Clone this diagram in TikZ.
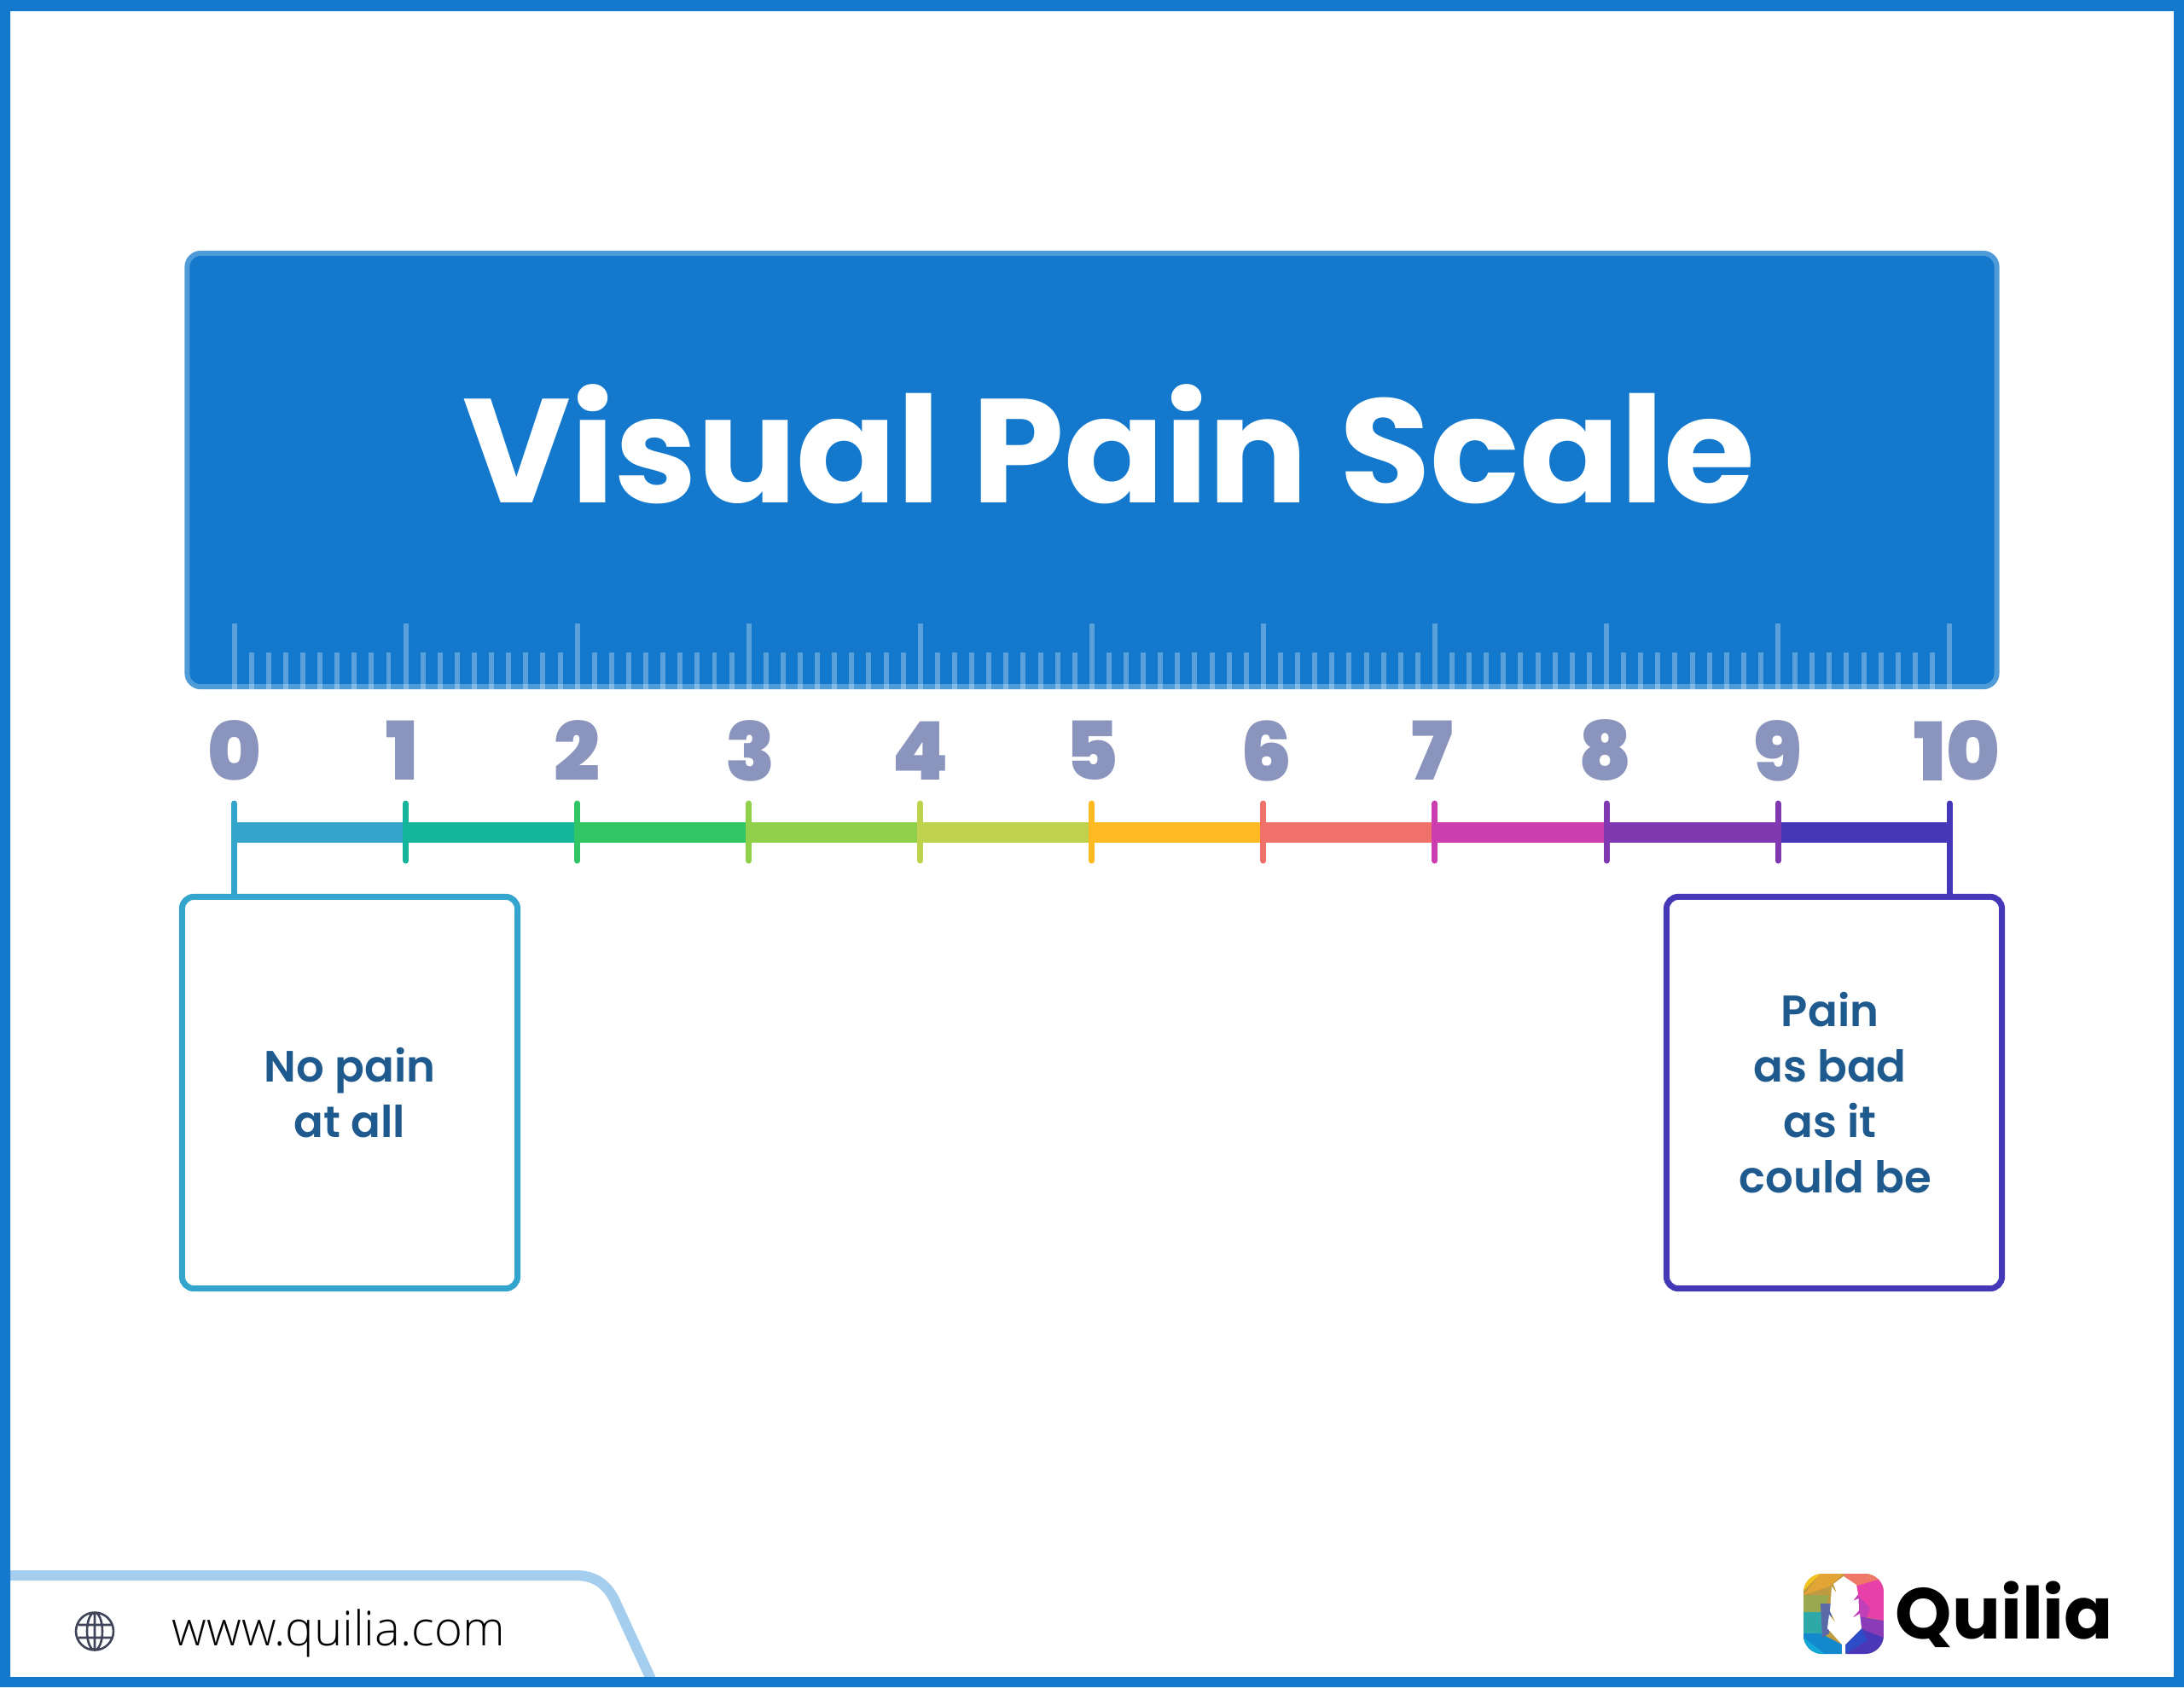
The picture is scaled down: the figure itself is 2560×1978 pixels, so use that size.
\documentclass[tikz,border=0pt]{standalone}
\usepackage{fontspec}
\setmainfont{Poppins}
\newfontfamily\digitfont{Poppins Black}
\newfontfamily\semifont{Poppins SemiBold}
\newfontfamily\webfont{Open Sans Light}
\definecolor{framecol}{HTML}{1479CC}
\definecolor{edgecol}{HTML}{4F9BD8}
\definecolor{tabcol}{HTML}{A5CDEE}
\definecolor{digitcol}{HTML}{8A94BC}
\definecolor{textcol}{HTML}{1F5A8E}
\definecolor{globecol}{HTML}{3F4458}
\definecolor{sa}{HTML}{33A5CC}
\definecolor{sb}{HTML}{14B59A}
\definecolor{sc}{HTML}{32C565}
\definecolor{sd}{HTML}{90D04A}
\definecolor{se}{HTML}{BFD24E}
\definecolor{sf}{HTML}{FFBA22}
\definecolor{sg}{HTML}{F0706A}
\definecolor{sh}{HTML}{CC3DAF}
\definecolor{si}{HTML}{8038B0}
\definecolor{sj}{HTML}{4438B8}
\tikzset{
	rulertick/.style={white, opacity=0.3, line width=1.7pt},
	scaletick/.style={line width=2pt, line cap=round},
	scalebar/.style={line width=6.83pt},
	digit/.style={inner sep=0, text=digitcol, font=\digitfont\fontsize{27}{27}\selectfont},
	painbox/.style={line width=2pt, rounded corners=1.4mm, outer sep=0, fill=white, minimum width=3.93cm,
		minimum height=4.59cm, align=center, text=textcol, font=\semifont\fontsize{14.6}{18.5}\selectfont},
}
\begin{document}
\begin{tikzpicture}[x=0.01cm, y=-0.01cm]
	  \useasboundingbox (0,0) rectangle (2560,1978);
	  % Header
	  \node [draw=edgecol, fill=framecol, line width=1.7pt, rounded corners=1.6mm, outer sep=0, minimum width=21.2cm,
	  minimum height=5.08cm] (header) at (1280,551) {};
	  \node [inner sep=0, text=white, font=\bfseries\fontsize{49.3}{60}\selectfont] (title) at (1300,521) {Visual Pain Scale};
	  % Ruler on the header
	  \foreach \i in {0,...,10}
	  	\draw [rulertick] (274.6+\i*201.05,731) -- (274.6+\i*201.05,808);
	  \foreach \i in {0,...,9}
	  	\foreach \j in {1,...,9}
	  		\draw [rulertick] (274.6+\i*201.05+\j*20.1,765) -- (274.6+\i*201.05+\j*20.1,808);
	  % Digits
	  \foreach \i/\dx in {0/0,1/-4,2/0,3/2,4/0,5/0,6/4,7/-3,8/-1,9/0,10/9}
	  	\node [digit] (digit\i) at (274.6+\i*201.05+\dx,880) {\i};
	  % Scale
	  \foreach \i/\col in {0/sa,1/sb,2/sc,3/sd,4/se,5/sf,6/sg,7/sh,8/si,9/sj}
	  	\draw [scalebar, \col] (274.6+\i*201.05,976) -- (274.6+\i*201.05+201.05,976);
	  \foreach \i/\col in {0/sa,1/sb,2/sc,3/sd,4/se,5/sf,6/sg,7/sh,8/si,9/si,10/sj}{
	  	\coordinate (tick\i) at (274.6+\i*201.05,942);
	  	\draw [scaletick, \col] (tick\i) -- ++(0,67);
	  }
	  % Boxes
	  \node [painbox, draw=sa] (lowbox) at (410,1281) {No pain\\at all};
	  \node [painbox, draw=sj] (highbox) at (2150,1281) {\mbox{Pain\kern2.8pt}\\\mbox{as bad\kern2.8pt}\\\mbox{as it\kern2.8pt}\\\mbox{\kern0.9pt could be}};
	  \draw [line width=2pt, sa] (tick0) -- (tick0 |- lowbox.north);
	  \draw [line width=2pt, sj] (tick10) -- (tick10 |- highbox.north);
	  % Footer tab
	  \draw [line width=3.41pt, tabcol] (0,1847) -- (675,1847) .. controls (700,1847) and (712,1860) .. (720,1875) -- (766,1975);
	  \draw [line width=0.74pt, globecol] (111,1912.5) circle (22) (111,1912.5) ellipse (9 and 22)
	  (92,1905) -- (130,1905) (92,1920) -- (130,1920) (111,1890.5) -- (111,1934.5);
	  \node [inner sep=0, anchor=west, font=\webfont\fontsize{16}{16}\selectfont] (web) at (201,1915) {www.quilia.com};
	  \node [inner sep=0, anchor=west, font=\bfseries\fontsize{24}{24}\selectfont] (brand) at (2221,1893) {Quilia};
	  % Frame
	  \fill [framecol, even odd rule] (0,0) rectangle (2560,1978) (12,13) rectangle (2548,1966);
	  % Logo
	  \begin{scope}[shift={(2114,1845)}]
	  	\clip [rounded corners=2.2mm] (0,0) rectangle (94,94);
	  	\fill [fill={rgb,255:red,192;green,154;blue,64}] (0,0) rectangle (94,94);
	  	\fill [fill={rgb,255:red,227;green,164;blue,54}] (20,0) -- (47,0) -- (30,15) -- (0,25) -- cycle;
	  	\fill [fill={rgb,255:red,245;green,195;blue,30}] (0,0) -- (20,0) -- (0,20) -- cycle;
	  	\fill [fill={rgb,255:red,240;green,120;blue,104}] (47,0) -- (94,0) -- (94,5) -- (60,22) -- cycle;
	  	\fill [fill={rgb,255:red,232;green,63;blue,168}] (60,15) -- (94,5) -- (94,55) -- (70,50) -- cycle;
	  	\fill [fill={rgb,255:red,192;green,64;blue,184}] (60,22) -- (78,40) -- (70,62) -- (55,50) -- cycle;
	  	\fill [fill={rgb,255:red,138;green,60;blue,184}] (65,50) -- (94,55) -- (94,75) -- (68,75) -- cycle;
	  	\fill [fill={rgb,255:red,74;green,56;blue,184}] (50,94) -- (68,65) -- (94,75) -- (94,94) -- cycle;
	  	\fill [fill={rgb,255:red,46;green,76;blue,200}] (49,94) -- (49,83) -- (68,64) -- (75,78) -- cycle;
	  	\fill [fill={rgb,255:red,154;green,168;blue,80}] (0,25) -- (30,25) -- (22,50) -- (0,50) -- cycle;
	  	\fill [fill={rgb,255:red,47;green,168;blue,168}] (0,45) -- (22,45) -- (25,72) -- (0,78) -- cycle;
	  	\fill [fill={rgb,255:red,20;green,136;blue,204}] (0,70) -- (20,70) -- (45,83) -- (45,94) -- (0,94) -- cycle;
	  	\fill [fill={rgb,255:red,20;green,168;blue,216}] (0,75) -- (25,94) -- (0,94) -- cycle;
	  	\fill [fill={rgb,255:red,90;green,106;blue,168}] (20,35) -- (35,35) -- (30,70) -- (22,75) -- cycle;
	  	\fill [white] (47,3) -- (62,13) -- (64,24) -- (58,32) -- (64.5,29) -- (65,43) -- (57,52) -- (66,47) -- (68,64)
	  	-- (49,83) -- (49,94) -- (45,94) -- (45,83) -- (28,64) -- (30,48) -- (38,58) -- (31,44) -- (33,15) -- (39,23) -- (35,12) -- cycle;
	  \end{scope}
\end{tikzpicture}
\end{document}
